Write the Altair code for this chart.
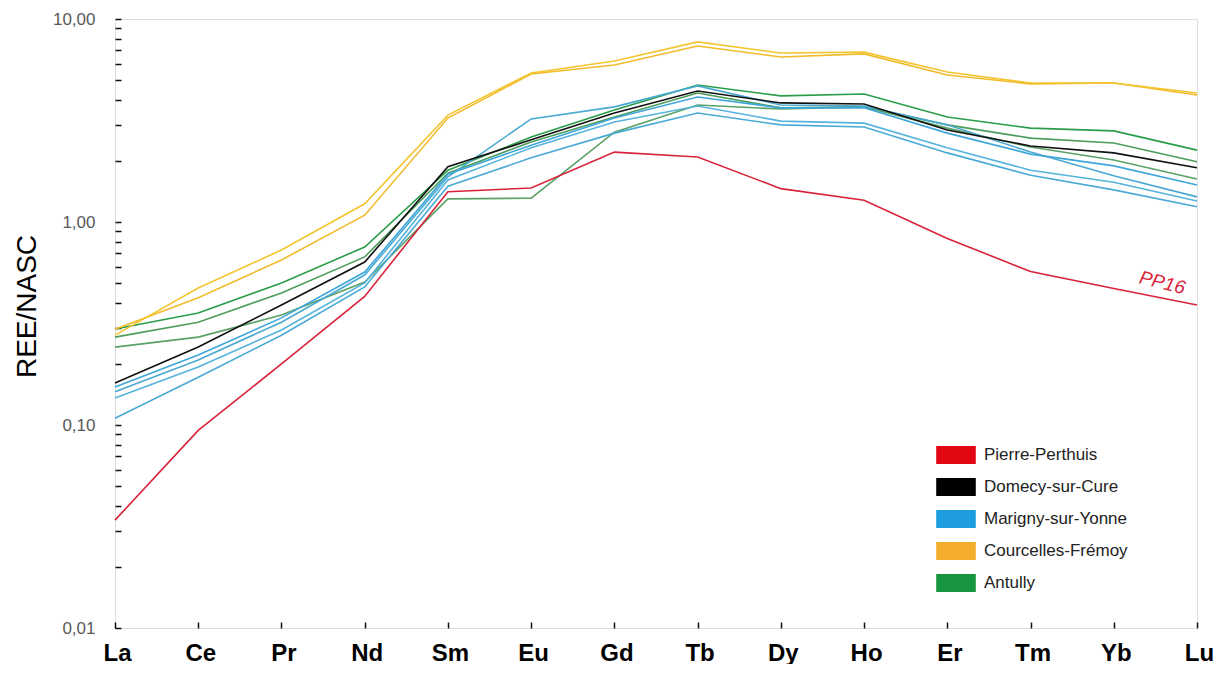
import altair as alt
import pandas as pd

# ---------------- data ----------------
elements = ["La", "Ce", "Pr", "Nd", "Sm", "Eu", "Gd", "Tb", "Dy", "Ho", "Er", "Tm", "Yb", "Lu"]
groups = ["Pierre-Perthuis", "Domecy-sur-Cure", "Marigny-sur-Yonne", "Courcelles-Frémoy", "Antully"]
legend_colors = ["#e30613", "#000000", "#1d9de0", "#f5ae2c", "#17953f"]

pp16 = [0.034, 0.094, 0.20, 0.43, 1.41, 1.47, 2.21, 2.09, 1.46, 1.28, 0.83, 0.57, 0.47, 0.39]
dsc = [0.161, 0.242, 0.39, 0.635, 1.87, 2.54, 3.44, 4.42, 3.86, 3.81, 2.84, 2.37, 2.19, 1.85]
msy_a = [0.146, 0.209, 0.321, 0.548, 1.67, 3.22, 3.69, 4.68, 3.77, 3.73, 3.01, 2.21, 1.69, 1.33]
msy_b = [0.154, 0.221, 0.337, 0.567, 1.72, 2.39, 3.25, 4.13, 3.65, 3.65, 2.74, 2.16, 1.89, 1.52]
msy_c = [0.136, 0.193, 0.294, 0.501, 1.61, 2.32, 3.11, 3.73, 3.14, 3.07, 2.32, 1.80, 1.57, 1.27]
msy_d = [0.108, 0.172, 0.277, 0.479, 1.50, 2.07, 2.74, 3.44, 3.01, 2.94, 2.19, 1.70, 1.44, 1.19]
cf_a = [0.277, 0.473, 0.728, 1.23, 3.36, 5.42, 6.21, 7.71, 6.80, 6.87, 5.48, 4.84, 4.84, 4.32]
cf_b = [0.296, 0.423, 0.650, 1.08, 3.25, 5.36, 5.93, 7.36, 6.50, 6.73, 5.30, 4.79, 4.84, 4.22]
an_a = [0.297, 0.356, 0.501, 0.753, 1.80, 2.62, 3.56, 4.73, 4.18, 4.27, 3.29, 2.90, 2.81, 2.26]
an_b = [0.271, 0.321, 0.447, 0.673, 1.74, 2.48, 3.29, 4.32, 3.65, 3.69, 3.01, 2.59, 2.45, 1.98]
an_c = [0.242, 0.271, 0.348, 0.506, 1.30, 1.31, 2.77, 3.77, 3.60, 3.69, 2.90, 2.34, 2.02, 1.63]

# sample name, group, values, line colour (draw order: first = bottom)
samples = [
    ("AN-c", "Antully", an_c, "#5aa267"),
    ("AN-b", "Antully", an_b, "#4c9d5c"),
    ("AN-a", "Antully", an_a, "#2a9d49"),
    ("MSY-d", "Marigny-sur-Yonne", msy_d, "#4aaad6"),
    ("MSY-c", "Marigny-sur-Yonne", msy_c, "#55b3de"),
    ("MSY-b", "Marigny-sur-Yonne", msy_b, "#3ea6db"),
    ("MSY-a", "Marigny-sur-Yonne", msy_a, "#4aa9d2"),
    ("CF-b", "Courcelles-Frémoy", cf_b, "#f1bb2c"),
    ("CF-a", "Courcelles-Frémoy", cf_a, "#f3c530"),
    ("PP16", "Pierre-Perthuis", pp16, "#d8233b"),
    ("DSC", "Domecy-sur-Cure", dsc, "#111111"),
]

y_tick_values = [0.01, 0.02, 0.03, 0.04, 0.05, 0.06, 0.07, 0.08, 0.09,
                 0.1, 0.2, 0.3, 0.4, 0.5, 0.6, 0.7, 0.8, 0.9,
                 1, 2, 3, 4, 5, 6, 7, 8, 9, 10]

annot_element = ["Yb"]
annot_value = [0.50]
annot_text = ["PP16"]

rows = []
for order, (name, grp, vals, col) in enumerate(samples):
    for el, v in zip(elements, vals):
        rows.append({"sample": name, "group": grp, "element": el, "value": v, "ord": order})
df = pd.DataFrame(rows)

sample_names = [s[0] for s in samples]
sample_colors = [s[3] for s in samples]

FONT = "Liberation Sans"

x_enc = alt.X(
    "element:N",
    sort=elements,
    scale=alt.Scale(type="point", domain=elements, padding=0),
    axis=alt.Axis(
        title=None, domain=False, grid=False, ticks=True, tickSize=6, offset=-6,
        tickColor="#111", tickWidth=1.5, labelAngle=0,
        labelFont=FONT, labelFontSize=24, labelFontWeight="bold", labelColor="#000",
        labelPadding=13, labelOffset=2,
    ),
)
y_enc = alt.Y(
    "value:Q",
    scale=alt.Scale(type="log", domain=[0.01, 10], nice=False),
    axis=alt.Axis(
        title="REE/NASC", values=y_tick_values, domain=False, grid=False,
        tickSize=6, offset=-6, tickColor="#111", tickWidth=1.5,
        labelExpr="indexof([0.01, 0.1, 1, 10], datum.value) >= 0 ? replace(format(datum.value, '.2f'), '.', ',') : ''",
        labelOverlap=False, labelFont=FONT, labelFontSize=17, labelColor="#595959",
        labelPadding=20,
        titleFont=FONT, titleFontSize=28, titleFontWeight="normal", titleColor="#000",
        titleX=-80, titleY=287,
    ),
)

lines = alt.Chart(df).mark_line(strokeWidth=1.6).encode(
    x=x_enc,
    y=y_enc,
    detail="sample:N",
    order="ord:Q",
    stroke=alt.Stroke("sample:N", scale=alt.Scale(domain=sample_names, range=sample_colors), legend=None),
)

legend_layer = alt.Chart(df).transform_filter("false").mark_square().encode(
    x=alt.X("element:N", sort=elements),
    y=alt.Y("value:Q"),
    fill=alt.Fill(
        "group:N",
        scale=alt.Scale(domain=groups, range=legend_colors),
        legend=alt.Legend(
            title=None, orient="none", legendX=832, legendY=427, padding=0,
            symbolType="M-2.2,-1L2.2,-1L2.2,1L-2.2,1Z", symbolSize=324,
            symbolStrokeWidth=0, symbolOpacity=1,
            labelFont=FONT, labelFontSize=17, labelColor="#222", labelOffset=19,
            rowPadding=14,
        ),
    ),
)

annot = alt.Chart(pd.DataFrame({"element": annot_element, "value": annot_value, "label": annot_text})).mark_text(
    dx=47, dy=-12, angle=14, color="#d8233b", fontStyle="italic", fontSize=19, font=FONT,
    align="center", baseline="middle",
).encode(x=alt.X("element:N", sort=elements), y="value:Q", text="label:N")

chart = alt.layer(lines, legend_layer, annot).properties(
    width=1082, height=609,
    autosize=alt.AutoSizeParams(type="none"),
    padding={"left": 107, "top": 11, "right": 19, "bottom": 36},
).configure_view(stroke="#222", strokeWidth=1.6).configure(background="white")

chart.save("out.html", embed_options={"renderer": "svg", "actions": False})
